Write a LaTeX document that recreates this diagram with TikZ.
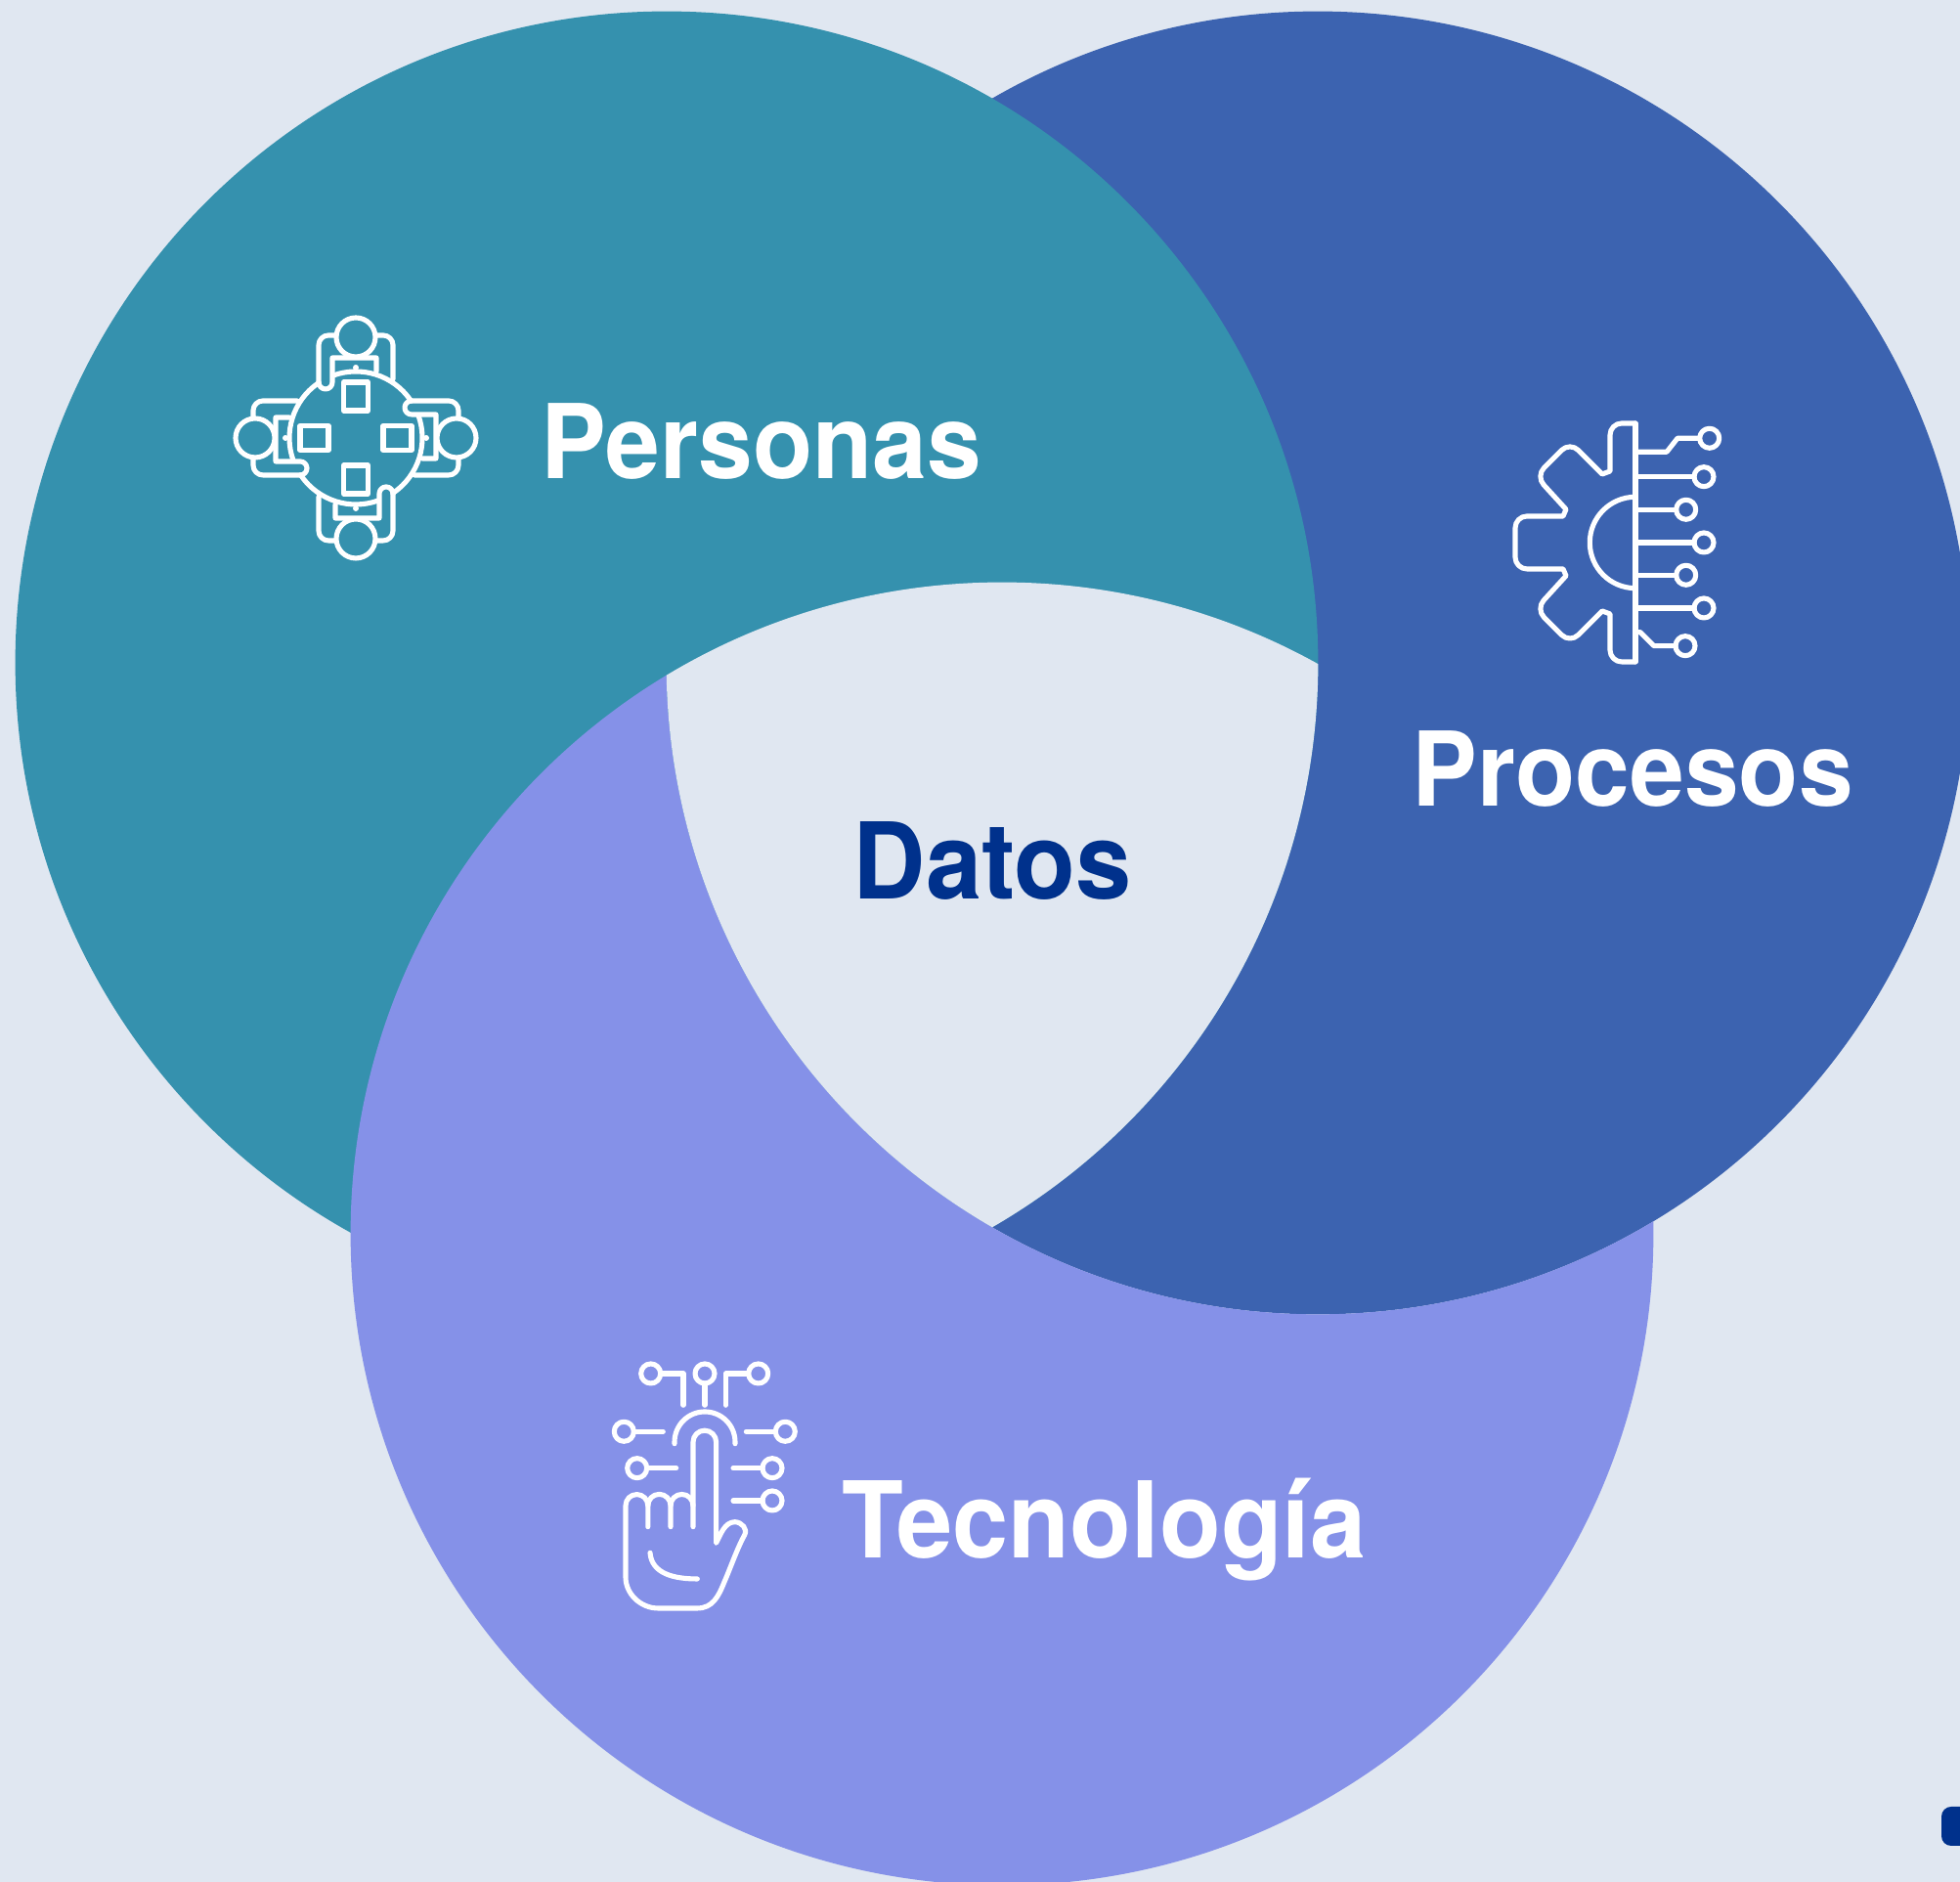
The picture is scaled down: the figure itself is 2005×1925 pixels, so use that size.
\documentclass[tikz,border=0pt]{standalone}
\usepackage{fontspec}
\setmainfont{TeX Gyre Heros}[FakeStretch=0.95]
\definecolor{fondo}{HTML}{E0E7F1}
\definecolor{teal}{HTML}{3591AE}
\definecolor{azul}{HTML}{3C63B0}
\definecolor{lila}{HTML}{8591E8}
\definecolor{marino}{HTML}{00318C}
\tikzset{
    etiqueta/.style={font=\fontsize{30}{30}\selectfont\bfseries, text=white, anchor=base west, inner sep=0pt},
    etiquetaancha/.style={etiqueta, font=\fontsize{30.8}{31}\selectfont\bfseries},
    trazo/.style={draw=white, line width=1.45pt, line cap=round, line join=round},
    curva/.style={rounded corners=0.1cm},
    diente/.style={rounded corners=0.12cm}
}
\newcommand{\RadioC}{6.66cm}
\begin{document}
\begin{tikzpicture}[x=0.01cm, y=0.01cm]
    \useasboundingbox (0,0) rectangle (2005,1925);
    \clip (0,0) rectangle (2005,1925);
    \fill[fondo] (0,0) rectangle (2005,1925);
    \fill[azul] (1348,1247) circle (\RadioC);
    \fill[teal] (682,1247) circle (\RadioC);
    \begin{scope}
        \clip (0,0) rectangle (2005,1925) (1348,1247) circle (\RadioC);
        \fill[lila] (1025,663) circle (\RadioC);
    \end{scope}
    \begin{scope}
        \clip (682,1247) circle (\RadioC);
        \clip (1348,1247) circle (\RadioC);
        \fill[fondo] (1025,663) circle (\RadioC);
    \end{scope}
    \fill[marino, curva] (1986,37) rectangle (2030,77);

    \node[etiqueta] (personas) at (553,1435) {Personas};
    \node[etiqueta] (procesos) at (1444,1100) {Procesos};
    \node[etiquetaancha, text=marino] (datos) at (872,1005) {Datos};
    \node[etiquetaancha] (tecnologia) at (861,331) {Tecnología};

    \begin{scope}[shift={(364,1477)}]
        \foreach \a in {0,90,180,270}{
            \begin{scope}[rotate=\a]
                \draw[trazo] (0,103) circle (20);
                \fill[white] (0,72) circle (3);
                \draw[trazo] (-12.5,28) rectangle (12.5,57);
                \draw[trazo] (110:68) arc (110:35:68);
                \draw[trazo, curva] (-20,105) -- (-38,105) -- (-38,55);
                \draw[trazo] (-38,57) arc (180:360:7) -- (-24,82) -- (21,82) -- (21,68);
                \draw[trazo, curva] (21,105) -- (38,105) -- (38,60);
            \end{scope}
        }
    \end{scope}

    \begin{scope}[shift={(1673,1370)}]
        \draw[trazo] (0,122) -- (0,-122);
        \draw[trazo] (0,46.7) arc (90:270:46.7);
        \draw[trazo, diente] (0,122) -- (-26,122) [sharp corners] -- (-26,73) -- (-34,70) [diente] -- (-67,103) -- (-102,68) [sharp corners] -- (-71,34) -- (-74,27) [diente] -- (-123,27) -- (-123,-27) [sharp corners] -- (-74,-27) -- (-71,-34) [diente] -- (-102,-68) -- (-67,-103) [sharp corners] -- (-34,-70) -- (-26,-73) [diente] -- (-26,-122) -- (0,-122);
        \draw[trazo] (0,92.7) -- (32,92.7) -- (43,106.7) -- (65,106.7);
        \draw[trazo] (75.7,106.7) circle (10);
        \foreach \y/\x in {67.3/70, 33.7/51.7, 0/70, -33.3/51.7, -67/70}{
            \draw[trazo] (0,\y) -- (\x-10,\y);
            \draw[trazo] (\x,\y) circle (10);
        }
        \draw[trazo] (0,-91.7) -- (5,-91.7) -- (19,-105.7) -- (41,-105.7);
        \draw[trazo] (51,-105.7) circle (10);
    \end{scope}

    \begin{scope}[shift={(721,405)}]
        \foreach \x/\y in {-55.3/115, 0/115, 54.7/115, -82.7/55.7, 82.3/55.7, -69.3/18.3, 69/18.3, 69/-15}{
            \draw[trazo] (\x,\y) circle (10);
        }
        \draw[trazo] (-45,115) -- (-22,115) -- (-22,82.7);
        \draw[trazo] (0,105) -- (0,82.7);
        \draw[trazo] (44.7,115) -- (21.3,115) -- (21.3,82.7);
        \draw[trazo] (-31,43.3) -- (-31,45) arc (180:0:31) -- (31,43.3);
        \draw[trazo] (-72.7,55.7) -- (-42.7,55.7);
        \draw[trazo] (72.3,55.7) -- (42.3,55.7);
        \draw[trazo] (-59.3,18.3) -- (-29.3,18.3);
        \draw[trazo] (59,18.3) -- (29,18.3);
        \draw[trazo] (59,-15) -- (29,-15);
        \draw[trazo] (-12,-41.7) -- (-12,45) arc (180:0:11.8) -- (11.6,-58.3) .. controls (16,-50) and (20,-37) .. (30.7,-36.7) .. controls (38,-37) and (44,-44) .. (40.7,-50) .. controls (33,-64) and (27,-82) .. (20,-98) .. controls (14,-113) and (8,-125) .. (-7.7,-125) -- (-47.7,-125) .. controls (-66,-125) and (-81,-110) .. (-81,-93.3) -- (-81,-20) arc (180:0:11.4) -- (-58.2,-41.7);
        \draw[trazo] (-58.2,-20) arc (180:0:11.6) -- (-35,-41.7);
        \draw[trazo] (-35,-20) arc (180:0:11.5);
        \draw[trazo] (-56,-68.3) .. controls (-54.3,-90) and (-31,-95) .. (-7.7,-95);
    \end{scope}
\end{tikzpicture}
\end{document}
